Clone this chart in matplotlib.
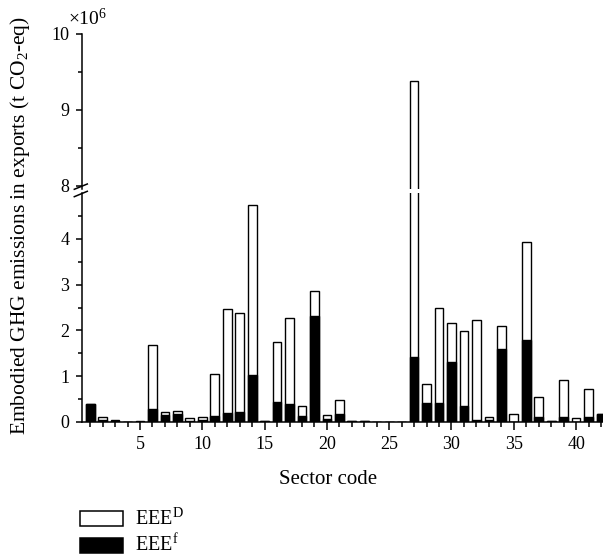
import matplotlib
matplotlib.use("Agg")
import matplotlib.pyplot as plt
from matplotlib.lines import Line2D
from matplotlib.patches import Rectangle
from matplotlib.ticker import MultipleLocator, FixedLocator

plt.rcParams['font.family'] = ['Liberation Serif', 'DejaVu Serif']
plt.rcParams['mathtext.fontset'] = 'custom'
plt.rcParams['mathtext.rm'] = 'Liberation Serif'
plt.rcParams['mathtext.it'] = 'Liberation Serif:italic'
plt.rcParams['mathtext.bf'] = 'Liberation Serif:bold'

# ---- data (x10^6 t CO2-eq) ----
sectors = list(range(1, 43))
eee_d = [0.39, 0.10, 0.04, 0.0, 0.02, 1.68, 0.21, 0.24, 0.09, 0.12,
         1.04, 2.46, 2.37, 4.74, 0.015, 1.74, 2.26, 0.36, 2.86, 0.15,
         0.49, 0.015, 0.015, 0.0, 0.01, 0.0, 9.38, 0.82, 2.48, 2.17,
         1.99, 2.22, 0.12, 2.09, 0.17, 3.92, 0.54, 0.02, 0.91, 0.09,
         0.72, 0.17]
eee_f = [0.39, 0.05, 0.03, 0.0, 0.01, 0.28, 0.15, 0.17, 0.03, 0.05,
         0.13, 0.20, 0.22, 1.02, 0.015, 0.44, 0.40, 0.14, 2.32, 0.06,
         0.17, 0.015, 0.015, 0.0, 0.01, 0.0, 1.41, 0.41, 0.41, 1.30,
         0.34, 0.04, 0.04, 1.59, 0.01, 1.80, 0.11, 0.02, 0.12, 0.01,
         0.11, 0.17]
xticks = [5, 10, 15, 20, 25, 30, 35, 40]
low_ticks = [0, 1, 2, 3, 4]
high_ticks = [8, 9, 10]

W, H = 603, 556
fig = plt.figure(figsize=(W / 100, H / 100), dpi=100)

def fx(px):
    return px / W

def fy(py):
    return 1 - py / H

left_px, right_px = 81.7, 603
low_top, low_bot = 193, 422
up_top, up_bot = 33.5, 189

ax_lo = fig.add_axes([fx(left_px), fy(low_bot), fx(right_px - left_px), (low_bot - low_top) / H])
ax_hi = fig.add_axes([fx(left_px), fy(up_bot), fx(right_px - left_px), (up_bot - up_top) / H])

bw = 0.70
for ax in (ax_lo, ax_hi):
    ax.bar(sectors, eee_d, width=bw, color='white', edgecolor='black', linewidth=1.0, zorder=2)
    ax.bar(sectors, eee_f, width=bw, color='black', edgecolor='black', linewidth=1.0, zorder=3)
    ax.set_xlim(0.32, 42.16)
    for s in ('top', 'right'):
        ax.spines[s].set_visible(False)
    ax.spines['left'].set_linewidth(1.1)
    ax.tick_params(axis='y', which='major', direction='out', length=4, width=1.1,
                   labelsize=13, pad=5)
    ax.tick_params(axis='y', which='minor', direction='out', length=3, width=1.1)

ax_lo.set_ylim(0, 5.0)
ax_lo.yaxis.set_major_locator(FixedLocator(low_ticks))
ax_lo.yaxis.set_minor_locator(FixedLocator([0.5, 1.5, 2.5, 3.5, 4.5]))
ax_lo.set_xticks(xticks)
ax_lo.set_xticklabels([str(t) for t in xticks])
ax_lo.xaxis.set_minor_locator(MultipleLocator(1))
ax_lo.tick_params(axis='x', which='major', direction='out', length=6, width=1.1,
                  labelsize=13, pad=4)
ax_lo.tick_params(axis='x', which='minor', direction='out', length=3.5, width=1.1)
ax_lo.spines['bottom'].set_linewidth(1.1)

ax_hi.set_ylim(7.96, 10)
ax_hi.yaxis.set_major_locator(FixedLocator(high_ticks))
ax_hi.yaxis.set_minor_locator(FixedLocator([8.5, 9.5]))
ax_hi.spines['bottom'].set_visible(False)
ax_hi.tick_params(axis='x', which='both', bottom=False, labelbottom=False)

# break marks
for (x0, y0, x1, y1) in [(74.3, 189.3, 87.3, 184.0), (74.3, 196.7, 87.3, 191.3)]:
    fig.add_artist(Line2D([fx(x0), fx(x1)], [fy(y0), fy(y1)], color='black', lw=1.1))

# texts
fig.text(fx(68), fy(25), '×10$^{6}$', fontsize=14, ha='left', va='baseline')
fig.text(fx(20), fy(226), 'Embodied GHG emissions in exports (t CO$_{2}$-eq)',
         rotation=90, ha='center', va='center', fontsize=15.5)
fig.text(fx(328), fy(480), 'Sector code', ha='center', va='center', fontsize=15)

# legend
fig.add_artist(Rectangle((fx(80), fy(526)), fx(43), 15 / H, facecolor='white',
                         edgecolor='black', lw=1.1))
fig.add_artist(Rectangle((fx(80), fy(553)), fx(43), 15 / H, facecolor='black',
                         edgecolor='black', lw=1.1))
fig.text(fx(135), fy(519), 'EEE$^{\\mathrm{D}}$', fontsize=14.5, ha='left', va='center')
fig.text(fx(135), fy(546), 'EEE$^{\\mathrm{f}}$', fontsize=14.5, ha='left', va='center')

fig.savefig('out.png', dpi=100)
